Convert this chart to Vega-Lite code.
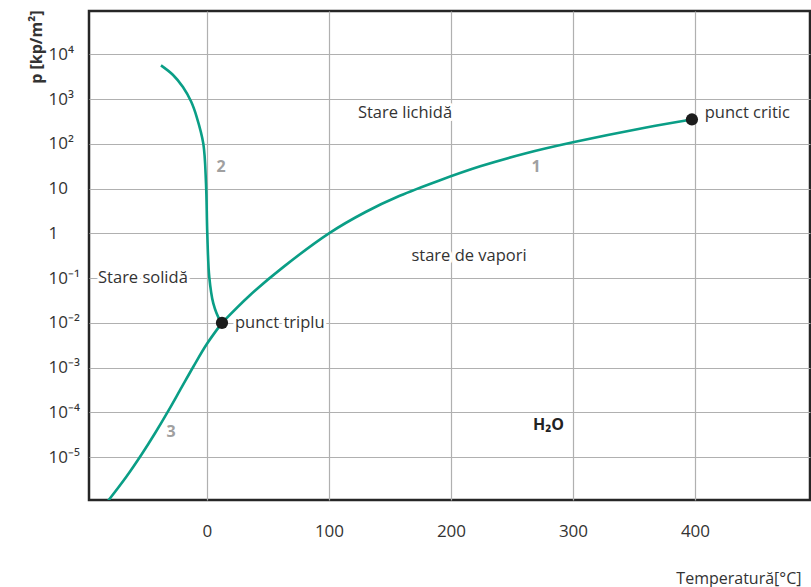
{
  "$schema": "https://vega.github.io/schema/vega-lite/v6.json",
  "autosize": {"type": "none"},
  "padding": {"left": 89, "top": 11, "right": 1, "bottom": 87},
  "width": 721,
  "height": 489,
  "background": "white",
  "config": {
    "view": {"stroke": "#262626", "strokeWidth": 2.5},
    "font": "Open Sans"
  },
  "datasets": {
    "curves": [
      {"curve": "3", "i": 0, "T": -81, "p": 1.06e-6},
      {"curve": "3", "i": 1, "T": -65.8, "p": 3.74e-6},
      {"curve": "3", "i": 2, "T": -53.5, "p": 1.16e-5},
      {"curve": "3", "i": 3, "T": -42.6, "p": 3.42e-5},
      {"curve": "3", "i": 4, "T": -31.7, "p": 1.08e-4},
      {"curve": "3", "i": 5, "T": -20.7, "p": 3.66e-4},
      {"curve": "3", "i": 6, "T": -11.2, "p": 1.045e-3},
      {"curve": "3", "i": 7, "T": -0.25, "p": 3.33e-3},
      {"curve": "3", "i": 8, "T": 12.3, "p": 0.01},
      {"curve": "2", "i": 0, "T": -37.7, "p": 5680},
      {"curve": "2", "i": 1, "T": -28, "p": 3500},
      {"curve": "2", "i": 2, "T": -19.7, "p": 1860},
      {"curve": "2", "i": 3, "T": -13, "p": 880},
      {"curve": "2", "i": 4, "T": -8.4, "p": 397},
      {"curve": "2", "i": 5, "T": -3.0, "p": 101},
      {"curve": "2", "i": 6, "T": -0.8, "p": 13.1},
      {"curve": "2", "i": 7, "T": 0.25, "p": 1.0},
      {"curve": "2", "i": 8, "T": 1.9, "p": 0.105},
      {"curve": "2", "i": 9, "T": 5.2, "p": 0.0272},
      {"curve": "2", "i": 10, "T": 10.7, "p": 0.0113},
      {"curve": "2", "i": 11, "T": 12.3, "p": 0.01},
      {"curve": "1", "i": 0, "T": 12.3, "p": 0.01},
      {"curve": "1", "i": 1, "T": 35, "p": 0.041},
      {"curve": "1", "i": 2, "T": 62.5, "p": 0.176},
      {"curve": "1", "i": 3, "T": 100, "p": 1.0},
      {"curve": "1", "i": 4, "T": 130, "p": 3.0},
      {"curve": "1", "i": 5, "T": 158, "p": 6.9},
      {"curve": "1", "i": 6, "T": 190, "p": 15},
      {"curve": "1", "i": 7, "T": 224, "p": 31.4},
      {"curve": "1", "i": 8, "T": 260, "p": 60},
      {"curve": "1", "i": 9, "T": 300, "p": 108},
      {"curve": "1", "i": 10, "T": 360, "p": 232},
      {"curve": "1", "i": 11, "T": 397.5, "p": 350}
    ],
    "points": [
      {"name": "punct triplu", "T": 12.3, "p": 0.01},
      {"name": "punct critic", "T": 397.5, "p": 350}
    ],
    "labelsCenter": [
      {"label": "Stare lichidă", "T": 162.3, "p": 480},
      {"label": "stare de vapori", "T": 214.8, "p": 0.305}
    ],
    "labelsLeft": [
      {"label": "Stare solidă", "T": -89.3, "p": 0.0984},
      {"label": "punct triplu", "T": 23, "p": 0.01},
      {"label": "punct critic", "T": 408, "p": 480}
    ],
    "numbers": [
      {"label": "1", "T": 269.7, "p": 29.8},
      {"label": "2", "T": 11.5, "p": 29.8},
      {"label": "3", "T": -29.5, "p": 3.56e-5}
    ],
    "formula": [
      {"label": "H₂O", "T": 280, "p": 5.1e-5}
    ]
  },
  "layer": [
    {
      "data": {"name": "curves"},
      "mark": {"type": "line", "color": "#0a9e86", "strokeWidth": 2.6, "interpolate": "catmull-rom", "clip": true},
      "encoding": {
        "x": {
          "field": "T", "type": "quantitative",
          "scale": {"domain": [-96.7, 494.3], "nice": false, "zero": false},
          "axis": {
            "values": [0, 100, 200, 300, 400],
            "tickSize": 0, "domain": false,
            "grid": true, "gridColor": "#b0b0b0", "gridWidth": 1.2,
            "labelPadding": 31, "labelBaseline": "middle",
            "labelFontSize": 17, "labelColor": "#333333", "labelFlush": false,
            "title": "Temperatură[°C]", "titleFontSize": 16, "titleFontWeight": "normal",
            "titleColor": "#333333", "titleAlign": "right", "titleBaseline": "middle",
            "titleX": 712, "titleY": 78
          }
        },
        "y": {
          "field": "p", "type": "quantitative",
          "scale": {"type": "log", "domain": [1.1e-6, 93000], "nice": false},
          "axis": {
            "values": [1e-5, 1e-4, 1e-3, 1e-2, 0.1, 1, 10, 100, 1000, 10000],
            "labelExpr": "datum.value >= 9999 ? '10⁴' : datum.value >= 999 ? '10³' : datum.value >= 99 ? '10²' : datum.value >= 9 ? '10' : datum.value >= 0.9 ? '1' : datum.value >= 0.09 ? '10⁻¹' : datum.value >= 0.009 ? '10⁻²' : datum.value >= 0.0009 ? '10⁻³' : datum.value >= 0.00009 ? '10⁻⁴' : '10⁻⁵'",
            "tickSize": 0, "domain": false,
            "grid": true, "gridColor": "#b0b0b0", "gridWidth": 1.2,
            "labelAlign": "left", "labelBaseline": "middle", "labelPadding": 41,
            "labelFontSize": 17, "labelColor": "#333333", "labelOverlap": false, "labelFlush": false,
            "title": "p [kp/m²]", "titleFontSize": 16, "titleFontWeight": "bold",
            "titleColor": "#333333", "titleAngle": -90, "titleAlign": "right",
            "titleBaseline": "middle", "titleX": -53, "titleY": -1
          }
        },
        "detail": {"field": "curve", "type": "nominal"},
        "order": {"field": "i", "type": "quantitative"}
      }
    },
    {
      "data": {"name": "points"},
      "mark": {"type": "circle", "color": "#1c1c1c", "opacity": 1, "size": 150},
      "encoding": {
        "x": {"field": "T", "type": "quantitative"},
        "y": {"field": "p", "type": "quantitative"}
      }
    },
    {
      "data": {"name": "labelsCenter"},
      "mark": {"type": "text", "fontSize": 16.5, "align": "center", "baseline": "middle", "stroke": "white", "strokeWidth": 6, "strokeJoin": "round", "fill": "white"},
      "encoding": {
        "x": {"field": "T", "type": "quantitative"},
        "y": {"field": "p", "type": "quantitative"},
        "text": {"field": "label"}
      }
    },
    {
      "data": {"name": "labelsCenter"},
      "mark": {"type": "text", "fontSize": 16.5, "align": "center", "baseline": "middle", "color": "#333333"},
      "encoding": {
        "x": {"field": "T", "type": "quantitative"},
        "y": {"field": "p", "type": "quantitative"},
        "text": {"field": "label"}
      }
    },
    {
      "data": {"name": "labelsLeft"},
      "mark": {"type": "text", "fontSize": 16.5, "align": "left", "baseline": "middle", "stroke": "white", "strokeWidth": 6, "strokeJoin": "round", "fill": "white"},
      "encoding": {
        "x": {"field": "T", "type": "quantitative"},
        "y": {"field": "p", "type": "quantitative"},
        "text": {"field": "label"}
      }
    },
    {
      "data": {"name": "labelsLeft"},
      "mark": {"type": "text", "fontSize": 16.5, "align": "left", "baseline": "middle", "color": "#333333"},
      "encoding": {
        "x": {"field": "T", "type": "quantitative"},
        "y": {"field": "p", "type": "quantitative"},
        "text": {"field": "label"}
      }
    },
    {
      "data": {"name": "numbers"},
      "mark": {"type": "text", "fontSize": 16, "fontWeight": "bold", "align": "center", "baseline": "middle", "color": "#a0a0a0"},
      "encoding": {
        "x": {"field": "T", "type": "quantitative"},
        "y": {"field": "p", "type": "quantitative"},
        "text": {"field": "label"}
      }
    },
    {
      "data": {"name": "formula"},
      "mark": {"type": "text", "fontSize": 16, "fontWeight": "bold", "align": "center", "baseline": "middle", "color": "#222222"},
      "encoding": {
        "x": {"field": "T", "type": "quantitative"},
        "y": {"field": "p", "type": "quantitative"},
        "text": {"field": "label"}
      }
    }
  ]
}
